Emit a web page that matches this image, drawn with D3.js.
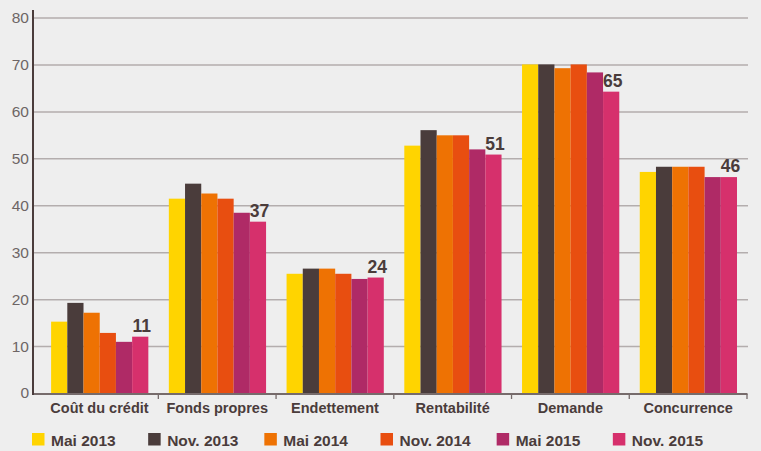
<!DOCTYPE html>
<html>
<head>
<meta charset="utf-8">
<script src="https://cdn.jsdelivr.net/npm/d3@7"></script>
<style>
  html, body { margin: 0; padding: 0; background: #eeeeee; }
  svg { display: block; font-family: "Liberation Sans", Arial, sans-serif; }
</style>
</head>
<body>
<svg id="chart" width="761" height="451"></svg>
<script>
'use strict';

var categories = ['Coût du crédit', 'Fonds propres', 'Endettement', 'Rentabilité', 'Demande', 'Concurrence'];
var series = ['Mai 2013', 'Nov. 2013', 'Mai 2014', 'Nov. 2014', 'Mai 2015', 'Nov. 2015'];
var colors = ['#ffd400', '#4a3c3b', '#ee7203', '#e84e10', '#af2a66', '#d6306c'];

// one array per survey wave, values in category order
var mai2013 = [15.2, 41.4, 25.4, 52.7, 70.0, 47.1];
var nov2013 = [19.2, 44.6, 26.5, 56.0, 70.0, 48.2];
var mai2014 = [17.1, 42.5, 26.5, 54.9, 69.2, 48.2];
var nov2014 = [12.8, 41.4, 25.4, 54.9, 70.0, 48.2];
var mai2015 = [10.9, 38.4, 24.3, 51.9, 68.3, 46.0];
var nov2015 = [12.0, 36.5, 24.6, 50.8, 64.2, 46.0];
var lastLabels = [11, 37, 24, 51, 65, 46];
var yTicks = [0, 10, 20, 30, 40, 50, 60, 70, 80];

var values = [mai2013, nov2013, mai2014, nov2014, mai2015, nov2015];

var svg = d3.select('#chart');
var plotLeft = 33, plotRight = 748, plotBottom = 393, plotTop = 17.5;

var y = d3.scaleLinear().domain([0, 80]).range([plotBottom, plotTop]);
var x0 = d3.scaleBand().domain(categories).range([40.6, 747]).paddingInner(0).paddingOuter(0);
var x1 = d3.scaleBand().domain(series).range([10.5, x0.bandwidth() - 10]);
var color = d3.scaleOrdinal().domain(series).range(colors);

// gridlines + y labels
var yAxis = svg.append('g')
  .attr('transform', 'translate(' + plotLeft + ',0)')
  .call(d3.axisLeft(y).tickValues(yTicks).tickSizeInner(-(plotRight - plotLeft)).tickSizeOuter(0).tickPadding(4));
yAxis.select('.domain').remove();
yAxis.selectAll('.tick line')
  .attr('stroke', '#b3adad')
  .attr('stroke-width', 1.5);
yAxis.selectAll('.tick text')
  .attr('fill', '#6d6565')
  .attr('font-size', 15.5)
  .attr('font-family', '"Liberation Sans", Arial, sans-serif');
yAxis.selectAll('.tick').filter(function (d) { return d === 0; }).select('line').remove();

// bars
var groups = svg.append('g').selectAll('g')
  .data(categories).enter()
  .append('g')
  .attr('transform', function (c) { return 'translate(' + x0(c) + ',0)'; });

groups.selectAll('rect')
  .data(function (c, i) {
    return series.map(function (s, j) { return { s: s, v: values[j][i] }; });
  }).enter()
  .append('rect')
  .attr('x', function (d) { return x1(d.s); })
  .attr('width', x1.bandwidth())
  .attr('y', function (d) { return y(d.v); })
  .attr('height', function (d) { return y(0) - y(d.v); })
  .attr('fill', function (d) { return color(d.s); });

// value labels above the last wave
groups.append('text')
  .text(function (c, i) { return lastLabels[i]; })
  .attr('x', function () { return x1(series[5]) + x1.bandwidth() / 2 + 1.5; })
  .attr('y', function (c, i) { return y(nov2015[i]) - 5; })
  .attr('text-anchor', 'middle')
  .attr('font-size', 17.5)
  .attr('font-weight', 'bold')
  .attr('fill', '#4a3c3b');

// x axis
var xAxis = svg.append('g')
  .attr('transform', 'translate(0,' + (plotBottom + 1) + ')')
  .call(d3.axisBottom(x0).tickSize(0).tickPadding(9));
xAxis.select('.domain').remove();
xAxis.selectAll('.tick text')
  .attr('fill', '#4a3c3b')
  .attr('font-size', 14.5)
  .attr('font-weight', 'bold')
  .attr('font-family', '"Liberation Sans", Arial, sans-serif');

svg.append('line')
  .attr('x1', plotLeft).attr('x2', 747.5)
  .attr('y1', plotBottom + 1).attr('y2', plotBottom + 1)
  .attr('stroke', '#766b6b')
  .attr('stroke-width', 2);

svg.append('g').selectAll('line')
  .data(categories).enter()
  .append('line')
  .attr('x1', function (c) { return x0(c) + x0.bandwidth(); })
  .attr('x2', function (c) { return x0(c) + x0.bandwidth(); })
  .attr('y1', plotBottom + 1)
  .attr('y2', plotBottom + 6)
  .attr('stroke', '#766b6b')
  .attr('stroke-width', 1.3);

svg.append('line')
  .attr('x1', plotLeft).attr('x2', plotLeft)
  .attr('y1', 10).attr('y2', plotBottom + 2)
  .attr('stroke', '#4a3c3b')
  .attr('stroke-width', 2);

// legend
var lx = d3.scaleBand().domain(series).range([32, 729]);
var legend = svg.append('g').selectAll('g')
  .data(series).enter()
  .append('g')
  .attr('transform', function (s) { return 'translate(' + lx(s) + ',433)'; });

legend.append('rect')
  .attr('width', 12.5)
  .attr('height', 12.5)
  .attr('fill', function (s) { return color(s); });

legend.append('text')
  .text(function (s) { return s; })
  .attr('x', 19)
  .attr('y', 13)
  .attr('font-size', 15.5)
  .attr('font-weight', 'bold')
  .attr('fill', '#4a3c3b');
</script>
</body>
</html>
